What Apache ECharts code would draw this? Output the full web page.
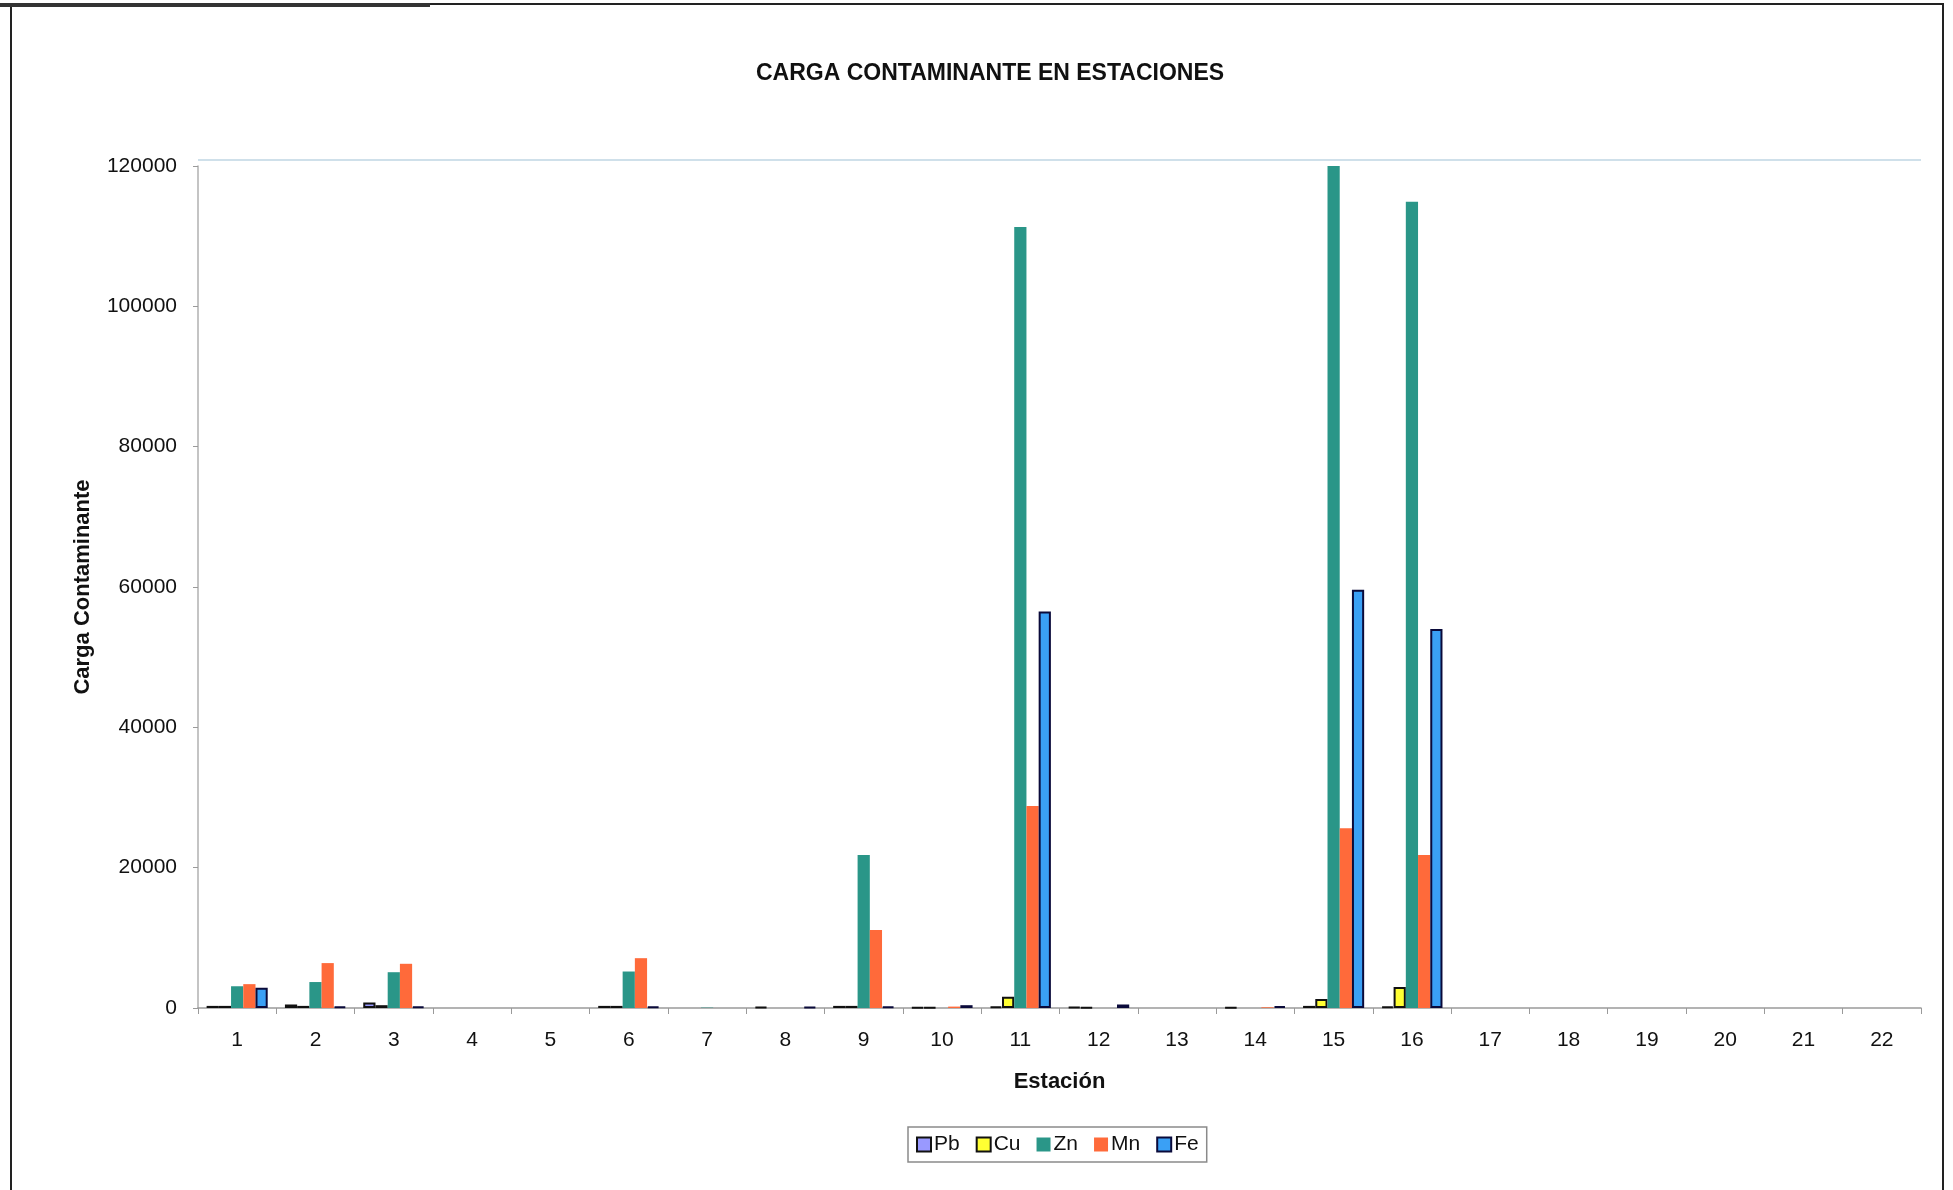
<!DOCTYPE html>
<html>
<head>
<meta charset="utf-8">
<title>Carga contaminante en estaciones</title>
<script src="https://cdn.jsdelivr.net/npm/echarts@6/dist/echarts.min.js"></script>
<style>
  html, body { margin: 0; padding: 0; background: #ffffff; }
  #chart { width: 1953px; height: 1190px; }
</style>
</head>
<body>
<div id="chart"></div>
<script>
// Estaciones de muestreo
const estaciones = ['1','2','3','4','5','6','7','8','9','10','11','12','13','14','15','16','17','18','19','20','21','22'];

// Carga contaminante por metal (null = sin barra)
const pb = [300, 500, 800, null, null, 300, null, 150, 300, 100, 200, 150, null, 100, 300, 200, null, null, null, null, null, null];
const cu = [300, 300, 400, null, null, 300, null, null, 300, 100, 1600, 100, null, null, 1300, 3000, null, null, null, null, null, null];
const zn = [3100, 3700, 5100, null, null, 5200, 50, null, 21800, null, 111300, null, null, null, 120000, 114900, null, null, null, null, null, null];
const mn = [3400, 6400, 6300, null, null, 7100, null, null, 11100, 200, 28800, null, null, 100, 25600, 21800, null, null, null, null, null, null];
const fe = [2900, 200, 200, null, null, 200, null, 150, 200, 400, 56500, 500, null, 250, 59600, 54000, null, null, null, null, null, null];

const yTicks = { min: 0, max: 120000, interval: 20000 };

const FONT = '"Liberation Sans", Arial, sans-serif';

const chart = echarts.init(document.getElementById('chart'), null, { renderer: 'canvas' });

function barSeries(name, data, color, border) {
  return {
    name: name,
    type: 'bar',
    data: data,
    barGap: '0%',
    barCategoryGap: '22%',
    itemStyle: {
      color: color,
      borderColor: border || color,
      borderWidth: border ? 2 : 0
    },
    emphasis: { disabled: true }
  };
}

chart.setOption({
  animation: false,
  backgroundColor: '#ffffff',
  textStyle: { fontFamily: FONT },
  title: {
    text: 'CARGA CONTAMINANTE EN ESTACIONES',
    left: 751,
    top: 57,
    textStyle: { fontFamily: FONT, fontSize: 23, fontWeight: 'bold', color: '#111111' }
  },
  grid: { left: 198, right: 32, top: 166, bottom: 182, containLabel: false },
  legend: {
    left: 908,
    top: 1127,
    orient: 'horizontal',
    itemWidth: 14,
    itemHeight: 14,
    itemGap: 16,
    padding: [7, 8, 7, 8],
    borderColor: '#8a8a8a',
    borderWidth: 1.5,
    icon: 'rect',
    textStyle: { fontFamily: FONT, fontSize: 21, color: '#111111', padding: [0, 0, 0, -2] },
    data: ['Pb', 'Cu', 'Zn', 'Mn', 'Fe']
  },
  xAxis: {
    type: 'category',
    data: estaciones,
    name: 'Estación',
    nameLocation: 'middle',
    nameGap: 63,
    nameTextStyle: { fontFamily: FONT, fontSize: 22, fontWeight: 'bold', color: '#111111' },
    axisLine: { lineStyle: { color: '#9a9a9a', width: 1.5 } },
    axisTick: { show: true, alignWithLabel: false, length: 6, lineStyle: { color: '#9a9a9a' } },
    axisLabel: { fontFamily: FONT, fontSize: 21, color: '#111111', margin: 22 },
    splitLine: { show: false }
  },
  yAxis: {
    type: 'value',
    min: yTicks.min,
    max: yTicks.max,
    interval: yTicks.interval,
    name: 'Carga Contaminante',
    nameLocation: 'middle',
    nameGap: 104,
    nameRotate: 90,
    nameTextStyle: { fontFamily: FONT, fontSize: 22, fontWeight: 'bold', color: '#111111' },
    axisLine: { show: true, lineStyle: { color: '#b0b0b0', width: 1.5 } },
    axisTick: { show: true, inside: false, length: 5, lineStyle: { color: '#9a9a9a' } },
    axisLabel: {
      fontFamily: FONT, fontSize: 21, color: '#111111', margin: 21,
      formatter: function (v) { return String(v); }
    },
    splitLine: { show: false }
  },
  series: [
    barSeries('Pb', pb, '#9999ff', '#111111'),
    barSeries('Cu', cu, '#ffff33', '#111111'),
    barSeries('Zn', zn, '#2a9688', null),
    barSeries('Mn', mn, '#ff6a3a', null),
    barSeries('Fe', fe, '#3aa0f5', '#0a0a3a')
  ],
  graphic: [
    // marco exterior del gráfico
    {
      type: 'rect',
      silent: true,
      shape: { x: 11, y: 4, width: 1932, height: 1250 },
      style: { fill: 'none', stroke: '#222222', lineWidth: 2 }
    },
    {
      type: 'line',
      silent: true,
      shape: { x1: 0, y1: 5, x2: 430, y2: 5 },
      style: { stroke: '#333333', lineWidth: 4 }
    },
    // borde superior del área de trazado
    {
      type: 'line',
      silent: true,
      shape: { x1: 198, y1: 160, x2: 1921, y2: 160 },
      style: { stroke: '#cfe0ea', lineWidth: 2 }
    }
  ]
});
</script>
</body>
</html>
